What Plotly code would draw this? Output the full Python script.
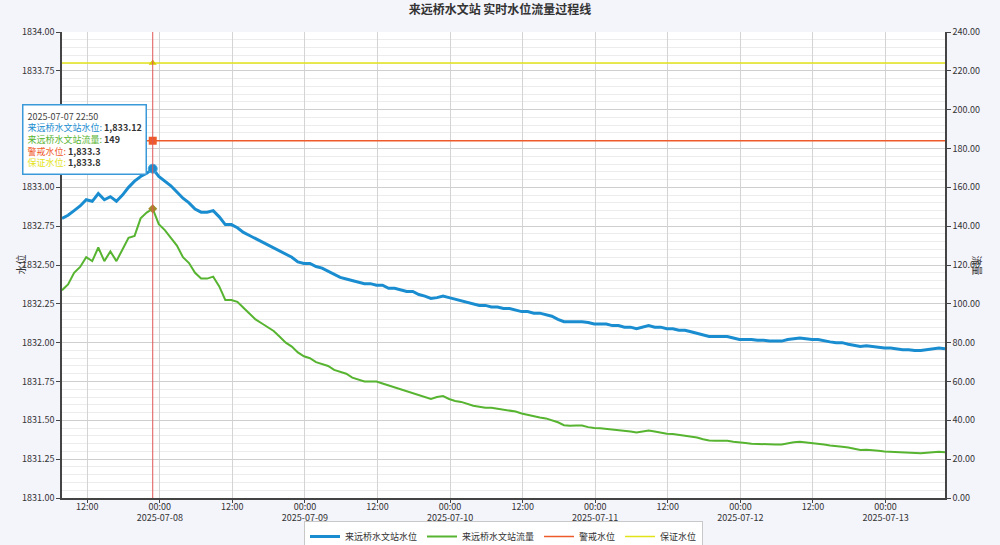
import pandas as pd
import plotly.graph_objects as go

# ---------------- data ----------------
start_time = "2025-07-07 07:50"
n_hours = 147
times = pd.date_range(start_time, periods=n_hours, freq="h")

water_level = [
    # 07-07 07:50 .. 23:50
    1832.80, 1832.82, 1832.85, 1832.88, 1832.92, 1832.91, 1832.96, 1832.92, 1832.94,
    1832.91, 1832.95, 1833.00, 1833.04, 1833.07, 1833.09, 1833.12, 1833.07,
    # 07-08
    1833.04, 1833.01, 1832.97, 1832.93, 1832.90, 1832.86, 1832.84, 1832.84, 1832.85,
    1832.81, 1832.76, 1832.76, 1832.74, 1832.71, 1832.69, 1832.67, 1832.65, 1832.63,
    1832.61, 1832.59, 1832.57, 1832.55, 1832.52, 1832.51,
    # 07-09
    1832.51, 1832.49, 1832.48, 1832.46, 1832.44, 1832.42, 1832.41, 1832.40, 1832.39,
    1832.38, 1832.38, 1832.37, 1832.37, 1832.35, 1832.35, 1832.34, 1832.33, 1832.33,
    1832.31, 1832.30, 1832.285, 1832.29, 1832.30, 1832.29,
    # 07-10
    1832.28, 1832.27, 1832.26, 1832.25, 1832.24, 1832.24, 1832.23, 1832.23, 1832.22,
    1832.22, 1832.21, 1832.20, 1832.20, 1832.19, 1832.19, 1832.18, 1832.17, 1832.15,
    1832.135, 1832.135, 1832.135, 1832.135, 1832.13, 1832.12,
    # 07-11
    1832.12, 1832.12, 1832.11, 1832.11, 1832.10, 1832.10, 1832.09, 1832.10, 1832.11,
    1832.10, 1832.10, 1832.09, 1832.09, 1832.08, 1832.08, 1832.07, 1832.06, 1832.05,
    1832.04, 1832.04, 1832.04, 1832.04, 1832.03, 1832.02,
    # 07-12
    1832.02, 1832.02, 1832.015, 1832.015, 1832.01, 1832.01, 1832.01, 1832.02, 1832.025,
    1832.03, 1832.025, 1832.02, 1832.02, 1832.01, 1832.005, 1832.00, 1832.00, 1831.99,
    1831.98, 1831.975, 1831.98, 1831.975, 1831.97, 1831.965,
    # 07-13 00:50 .. 09:50
    1831.965, 1831.96, 1831.955, 1831.955, 1831.95, 1831.95, 1831.955, 1831.96, 1831.965,
    1831.96,
]

flow = [
    # 07-07
    107, 110, 116, 119, 124, 122, 129, 122, 127, 122, 128, 134, 135, 144, 147, 149, 141,
    # 07-08
    138, 134, 130, 124, 121, 116, 113, 113, 114, 109, 102, 102, 101, 98, 95, 92, 90, 88,
    86, 83, 80, 78, 75, 73,
    # 07-09
    72, 70, 69, 68, 66, 65, 64, 62, 61, 60, 60, 60, 59, 58, 57, 56, 55, 54, 53, 52, 51,
    52, 52.5, 51,
    # 07-10
    50, 49.5, 48.5, 47.5, 47, 46.5, 46.5, 46, 45.5, 45, 44.5, 43.5, 42.7, 42, 41.5, 41,
    40, 39, 37.5, 37.2, 37.3, 37.3, 36.5, 36,
    # 07-11
    35.9, 35.6, 35.3, 35, 34.6, 34.2, 33.7, 34.2, 34.7, 34.2, 33.6, 33.1, 33, 32.6, 32.2,
    31.9, 31.2, 30.3, 29.6, 29.5, 29.5, 29.5, 29, 28.5,
    # 07-12
    28.3, 28, 27.8, 27.8, 27.6, 27.5, 27.6, 28.2, 28.7, 29, 28.7, 28.4, 28.1, 27.5, 27,
    26.8, 26.4, 26, 25.2, 24.7, 24.8, 24.7, 24.3, 24,
    # 07-13
    23.8, 23.5, 23.3, 23.2, 23, 23, 23.3, 23.6, 23.8, 23.5,
]

warning_level = 1833.3
guarantee_level = 1833.8
hover_time = "2025-07-07 22:50"

series_names = ["来远桥水文站水位", "来远桥水文站流量", "警戒水位", "保证水位"]
title_text = "来远桥水文站 实时水位流量过程线"
left_title = "水位"
right_title = "流量"

x_tickvals = pd.date_range("2025-07-07 12:00", "2025-07-13 00:00", freq="12h")
x_ticktext = ["12:00", "00:00<br>2025-07-08", "12:00", "00:00<br>2025-07-09",
              "12:00", "00:00<br>2025-07-10", "12:00", "00:00<br>2025-07-11",
              "12:00", "00:00<br>2025-07-12", "12:00", "00:00<br>2025-07-13"]

# ---------------- styling ----------------
C_BLUE = "#1a8dd0"
C_GREEN = "#57b431"
C_RED = "#ef5a2a"
C_YELLOW = "#e3e31a"
C_CROSS = "#e05555"
FONT = "Noto Sans CJK SC"

W, H = 1000, 545
PL, PR, PT, PB = 62, 945, 32, 498  # plot area in pixels

fig = go.Figure()
fig.add_trace(go.Scatter(x=times, y=water_level, name=series_names[0], mode="lines",
                         line=dict(color=C_BLUE, width=3)))
fig.add_trace(go.Scatter(x=times, y=flow, name=series_names[1], mode="lines",
                         line=dict(color=C_GREEN, width=2), yaxis="y2"))
fig.add_trace(go.Scatter(x=[times[0], times[-1]], y=[warning_level] * 2, name=series_names[2],
                         mode="lines", line=dict(color=C_RED, width=1.5)))
fig.add_trace(go.Scatter(x=[times[0], times[-1]], y=[guarantee_level] * 2, name=series_names[3],
                         mode="lines", line=dict(color=C_YELLOW, width=1.5)))

hi = list(times).index(pd.Timestamp(hover_time))
ht = times[hi]

# crosshair
fig.add_shape(type="line", x0=ht, x1=ht, y0=0, y1=1, xref="x", yref="paper",
              line=dict(color=C_CROSS, width=1), layer="above")

# hover markers
fig.add_trace(go.Scatter(x=[ht], y=[water_level[hi]], mode="markers", showlegend=False,
                         marker=dict(color=C_BLUE, size=9, symbol="circle",
                                     line=dict(color="#4aa6dd", width=1))))
fig.add_trace(go.Scatter(x=[ht], y=[flow[hi]], mode="markers", showlegend=False, yaxis="y2",
                         marker=dict(color="#a08a2a", size=7, symbol="diamond")))
fig.add_trace(go.Scatter(x=[ht], y=[warning_level], mode="markers", showlegend=False,
                         marker=dict(color=C_RED, size=8, symbol="square")))
fig.add_trace(go.Scatter(x=[ht], y=[guarantee_level], mode="markers", showlegend=False,
                         marker=dict(color="#d8c800", size=7, symbol="triangle-up")))

pw, ph = PR - PL, PB - PT

tip = (f"<span style='color:#444'>{hover_time}</span><br>"
       f"<span style='color:{C_BLUE}'>{series_names[0]}:</span> <b>{water_level[hi]:,.2f}</b><br>"
       f"<span style='color:{C_GREEN}'>{series_names[1]}:</span> <b>{flow[hi]:,.0f}</b><br>"
       f"<span style='color:{C_RED}'>{series_names[2]}:</span> <b>{warning_level:,.1f}</b><br>"
       f"<span style='color:{C_YELLOW}'>{series_names[3]}:</span> <b>{guarantee_level:,.1f}</b>")
fig.add_annotation(text=tip, xref="paper", yref="paper", x=(22 - PL) / pw, y=(PB - 104) / ph,
                   xanchor="left", yanchor="top", showarrow=False, align="left",
                   bgcolor="white", bordercolor="#3a9ad9", borderwidth=1.5, borderpad=4,
                   font=dict(family=FONT, size=9, color="#333"))

# axis titles
fig.add_annotation(text=left_title, xref="paper", yref="paper", x=(10 - PL) / pw, y=0.5,
                   textangle=-90, showarrow=False, font=dict(family=FONT, size=10, color="#333"))
fig.add_annotation(text=right_title, xref="paper", yref="paper", x=(987 - PL) / pw, y=0.5,
                   textangle=90, showarrow=False, font=dict(family=FONT, size=10, color="#333"))

axis_common = dict(showline=True, linecolor="#444", linewidth=1.5, ticks="outside",
                   ticklen=4, tickcolor="#444", automargin=False,
                   tickfont=dict(family=FONT, size=9, color="#333"))

fig.update_layout(
    width=W, height=H,
    margin=dict(l=PL, r=W - PR, t=PT, b=H - PB, autoexpand=False),
    paper_bgcolor="#f4f4fb", plot_bgcolor="white",
    font=dict(family=FONT, size=10, color="#333"),
    title=dict(text=f"<b>{title_text}</b>", x=0.5, xanchor="center", y=1 - 10 / H,
               yanchor="middle", font=dict(family=FONT, size=12, color="#333")),
    xaxis=dict(range=[times[0], times[-1]], tickvals=x_tickvals, ticktext=x_ticktext,
               showgrid=True, gridcolor="#d4d4d4", gridwidth=1, zeroline=False,
               ticklabelstandoff=-4, **{**axis_common, "ticklen": 3}),
    yaxis=dict(range=[1831, 1834], dtick=0.25, tick0=1831, tickformat=".2f",
               showgrid=True, gridcolor="#cfcfcf", zeroline=False,
               minor=dict(dtick=0.05, showgrid=True, gridcolor="#ececec", ticks=""),
               **axis_common),
    yaxis2=dict(range=[0, 240], dtick=20, tickformat=".2f", overlaying="y", side="right",
                showgrid=False, zeroline=False, **axis_common),
    legend=dict(orientation="h", x=0.5, xanchor="center", y=1 - 536.5 / H, yref="container",
                yanchor="middle", bgcolor="white", bordercolor="#c8c8c8", borderwidth=1,
                font=dict(family=FONT, size=9, color="#333"), itemwidth=30,
                tracegroupgap=0),
    showlegend=True,
)

fig.write_html("out.html", config={"displayModeBar": False},
               post_script="document.body.style.margin='0';document.body.style.overflow='hidden';")
